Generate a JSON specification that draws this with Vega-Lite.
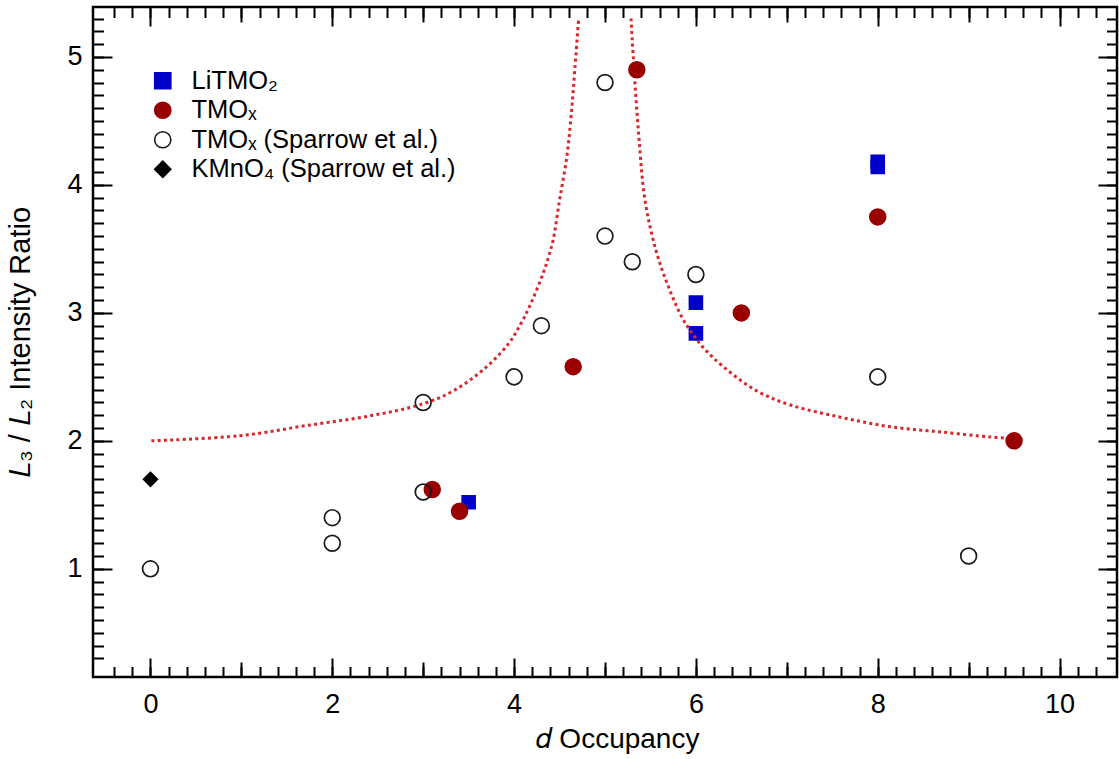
{
  "$schema": "https://vega.github.io/schema/vega-lite/v6.json",
  "width": 1024,
  "height": 670,
  "autosize": {"type": "none"},
  "padding": {"left": 93, "top": 7, "right": 2, "bottom": 82},
  "background": "white",
  "config": {
    "view": {"stroke": "black", "strokeWidth": 2.5},
    "axis": {"grid": false, "domain": false, "tickColor": "black", "tickWidth": 2, "labelFont": "Liberation Sans", "titleFont": "Liberation Sans", "labelColor": "black", "titleColor": "black", "titleFontWeight": "normal"}
  },
  "resolve": {"axis": {"x": "independent", "y": "independent"}},
  "datasets": {
    "points": [
      {"series": "LiTMO₂", "x": 3.5, "y": 1.52},
      {"series": "LiTMO₂", "x": 6, "y": 3.08},
      {"series": "LiTMO₂", "x": 6, "y": 2.84},
      {"series": "LiTMO₂", "x": 8, "y": 4.18},
      {"series": "LiTMO₂", "x": 8, "y": 4.14},
      {"series": "TMOₓ", "x": 3.1, "y": 1.62},
      {"series": "TMOₓ", "x": 3.4, "y": 1.45},
      {"series": "TMOₓ", "x": 4.65, "y": 2.58},
      {"series": "TMOₓ", "x": 5.35, "y": 4.9},
      {"series": "TMOₓ", "x": 6.5, "y": 3.0},
      {"series": "TMOₓ", "x": 8, "y": 3.75},
      {"series": "TMOₓ", "x": 9.5, "y": 2.0},
      {"series": "TMOₓ (Sparrow et al.)", "x": 0, "y": 1.0},
      {"series": "TMOₓ (Sparrow et al.)", "x": 2, "y": 1.4},
      {"series": "TMOₓ (Sparrow et al.)", "x": 2, "y": 1.2},
      {"series": "TMOₓ (Sparrow et al.)", "x": 3, "y": 1.6},
      {"series": "TMOₓ (Sparrow et al.)", "x": 3, "y": 2.3},
      {"series": "TMOₓ (Sparrow et al.)", "x": 4, "y": 2.5},
      {"series": "TMOₓ (Sparrow et al.)", "x": 4.3, "y": 2.9},
      {"series": "TMOₓ (Sparrow et al.)", "x": 5, "y": 3.6},
      {"series": "TMOₓ (Sparrow et al.)", "x": 5, "y": 4.8},
      {"series": "TMOₓ (Sparrow et al.)", "x": 5.3, "y": 3.4},
      {"series": "TMOₓ (Sparrow et al.)", "x": 6, "y": 3.3},
      {"series": "TMOₓ (Sparrow et al.)", "x": 8, "y": 2.5},
      {"series": "TMOₓ (Sparrow et al.)", "x": 9, "y": 1.1},
      {"series": " KMnO₄ (Sparrow et al.)", "x": 0, "y": 1.7}
    ],
    "curve": [
      {"branch": "left", "x": 0.01, "y": 2.0},
      {"branch": "left", "x": 0.98, "y": 2.04},
      {"branch": "left", "x": 1.72, "y": 2.12},
      {"branch": "left", "x": 2.45, "y": 2.2},
      {"branch": "left", "x": 3.0, "y": 2.29},
      {"branch": "left", "x": 3.33, "y": 2.39},
      {"branch": "left", "x": 3.7, "y": 2.58},
      {"branch": "left", "x": 3.95, "y": 2.77},
      {"branch": "left", "x": 4.07, "y": 2.91},
      {"branch": "left", "x": 4.17, "y": 3.05},
      {"branch": "left", "x": 4.32, "y": 3.31},
      {"branch": "left", "x": 4.38, "y": 3.44},
      {"branch": "left", "x": 4.43, "y": 3.57},
      {"branch": "left", "x": 4.5, "y": 3.88},
      {"branch": "left", "x": 4.58, "y": 4.22},
      {"branch": "left", "x": 4.63, "y": 4.56},
      {"branch": "left", "x": 4.67, "y": 4.92},
      {"branch": "left", "x": 4.71, "y": 5.3},
      {"branch": "right", "x": 5.286, "y": 5.3},
      {"branch": "right", "x": 5.318, "y": 4.92},
      {"branch": "right", "x": 5.37, "y": 4.4},
      {"branch": "right", "x": 5.44, "y": 3.88},
      {"branch": "right", "x": 5.56, "y": 3.49},
      {"branch": "right", "x": 5.7, "y": 3.2},
      {"branch": "right", "x": 5.85, "y": 2.96},
      {"branch": "right", "x": 5.94, "y": 2.86},
      {"branch": "right", "x": 6.08, "y": 2.73},
      {"branch": "right", "x": 6.3, "y": 2.58},
      {"branch": "right", "x": 6.67, "y": 2.39},
      {"branch": "right", "x": 7.04, "y": 2.28},
      {"branch": "right", "x": 7.59, "y": 2.185},
      {"branch": "right", "x": 8.14, "y": 2.11},
      {"branch": "right", "x": 8.69, "y": 2.07},
      {"branch": "right", "x": 9.24, "y": 2.03},
      {"branch": "right", "x": 9.46, "y": 2.02}
    ]
  },
  "layer": [
    {
      "data": {"name": "curve"},
      "mark": {"type": "point", "opacity": 0},
      "encoding": {
        "x": {"field": "x", "type": "quantitative", "scale": {"domain": [-0.632, 10.632], "nice": false, "zero": false},
          "axis": {"orient": "bottom", "values": [0, 2, 4, 6, 8, 10], "tickSize": -19, "labelPadding": 33, "labelFontSize": 27, "title": "𝑑  Occupancy", "titleFontSize": 28, "titlePadding": 8, "titleX": 524}},
        "y": {"field": "y", "type": "quantitative", "scale": {"domain": [0.155, 5.39], "nice": false, "zero": false},
          "axis": {"orient": "left", "values": [1, 2, 3, 4, 5], "tickSize": -19, "labelPadding": 30, "labelFontSize": 27, "title": "𝐿₃ / 𝐿₂   Intensity Ratio", "titleFontSize": 29, "titlePadding": 31}}
      }
    },
    {
      "data": {"name": "curve"},
      "mark": {"type": "point", "opacity": 0},
      "encoding": {
        "x": {"field": "x", "type": "quantitative", "scale": {"domain": [-0.632, 10.632], "nice": false, "zero": false},
          "axis": {"orient": "bottom", "values": [-0.4, -0.2, 0, 0.2, 0.4, 0.6, 0.8, 1, 1.2, 1.4, 1.6, 1.8, 2, 2.2, 2.4, 2.6, 2.8, 3, 3.2, 3.4, 3.6, 3.8, 4, 4.2, 4.4, 4.6, 4.8, 5, 5.2, 5.4, 5.6, 5.8, 6, 6.2, 6.4, 6.6, 6.8, 7, 7.2, 7.4, 7.6, 7.8, 8, 8.2, 8.4, 8.6, 8.8, 9, 9.2, 9.4, 9.6, 9.8, 10, 10.2, 10.4], "tickSize": -10.5, "labels": false, "title": null}},
        "y": {"field": "y", "type": "quantitative", "scale": {"domain": [0.155, 5.39], "nice": false, "zero": false},
          "axis": {"orient": "left", "values": [0.3, 0.4, 0.5, 0.6, 0.7, 0.8, 0.9, 1, 1.1, 1.2, 1.3, 1.4, 1.5, 1.6, 1.7, 1.8, 1.9, 2, 2.1, 2.2, 2.3, 2.4, 2.5, 2.6, 2.7, 2.8, 2.9, 3, 3.1, 3.2, 3.3, 3.4, 3.5, 3.6, 3.7, 3.8, 3.9, 4, 4.1, 4.2, 4.3, 4.4, 4.5, 4.6, 4.7, 4.8, 4.9, 5, 5.1, 5.2, 5.3], "tickSize": -10.5, "labels": false, "title": null}}
      }
    },
    {
      "data": {"name": "curve"},
      "mark": {"type": "point", "opacity": 0},
      "encoding": {
        "x": {"field": "x", "type": "quantitative", "scale": {"domain": [-0.632, 10.632], "nice": false, "zero": false},
          "axis": {"orient": "bottom", "values": [1, 3, 5, 7, 9], "tickSize": -15, "labels": false, "title": null}},
        "y": {"field": "y", "type": "quantitative", "scale": {"domain": [0.155, 5.39], "nice": false, "zero": false},
          "axis": {"orient": "right", "values": [1, 2, 3, 4, 5], "tickSize": -19, "labels": false, "title": null}}
      }
    },
    {
      "data": {"name": "curve"},
      "mark": {"type": "point", "opacity": 0},
      "encoding": {
        "x": {"field": "x", "type": "quantitative", "scale": {"domain": [-0.632, 10.632], "nice": false, "zero": false},
          "axis": {"orient": "top", "values": [0, 2, 4, 6, 8, 10], "tickSize": -19, "labels": false, "title": null}},
        "y": {"field": "y", "type": "quantitative", "scale": {"domain": [0.155, 5.39], "nice": false, "zero": false},
          "axis": {"orient": "right", "values": [0.3, 0.4, 0.5, 0.6, 0.7, 0.8, 0.9, 1, 1.1, 1.2, 1.3, 1.4, 1.5, 1.6, 1.7, 1.8, 1.9, 2, 2.1, 2.2, 2.3, 2.4, 2.5, 2.6, 2.7, 2.8, 2.9, 3, 3.1, 3.2, 3.3, 3.4, 3.5, 3.6, 3.7, 3.8, 3.9, 4, 4.1, 4.2, 4.3, 4.4, 4.5, 4.6, 4.7, 4.8, 4.9, 5, 5.1, 5.2, 5.3], "tickSize": -10.5, "labels": false, "title": null}}
      }
    },
    {
      "data": {"name": "curve"},
      "mark": {"type": "point", "opacity": 0},
      "encoding": {
        "x": {"field": "x", "type": "quantitative", "scale": {"domain": [-0.632, 10.632], "nice": false, "zero": false},
          "axis": {"orient": "top", "values": [-0.4, -0.2, 0, 0.2, 0.4, 0.6, 0.8, 1, 1.2, 1.4, 1.6, 1.8, 2, 2.2, 2.4, 2.6, 2.8, 3, 3.2, 3.4, 3.6, 3.8, 4, 4.2, 4.4, 4.6, 4.8, 5, 5.2, 5.4, 5.6, 5.8, 6, 6.2, 6.4, 6.6, 6.8, 7, 7.2, 7.4, 7.6, 7.8, 8, 8.2, 8.4, 8.6, 8.8, 9, 9.2, 9.4, 9.6, 9.8, 10, 10.2, 10.4], "tickSize": -10.5, "labels": false, "title": null}},
        "y": {"field": "y", "type": "quantitative", "scale": {"domain": [0.155, 5.39], "nice": false, "zero": false}, "axis": null}
      }
    },
    {
      "data": {"name": "curve"},
      "mark": {"type": "point", "opacity": 0},
      "encoding": {
        "x": {"field": "x", "type": "quantitative", "scale": {"domain": [-0.632, 10.632], "nice": false, "zero": false},
          "axis": {"orient": "top", "values": [1, 3, 5, 7, 9], "tickSize": -15, "labels": false, "title": null}},
        "y": {"field": "y", "type": "quantitative", "scale": {"domain": [0.155, 5.39], "nice": false, "zero": false}, "axis": null}
      }
    },
    {
      "data": {"name": "points"},
      "transform": [{"filter": "datum.series === 'LiTMO₂'"}],
      "mark": {"type": "point", "filled": false, "size": 169, "strokeWidth": 1.6, "opacity": 1},
      "encoding": {
        "x": {"field": "x", "type": "quantitative", "scale": {"domain": [-0.632, 10.632], "nice": false, "zero": false}, "axis": null},
        "y": {"field": "y", "type": "quantitative", "scale": {"domain": [0.155, 5.39], "nice": false, "zero": false}, "axis": null},
        "shape": {"field": "series", "type": "nominal", "scale": {"domain": ["LiTMO₂", "TMOₓ", "TMOₓ (Sparrow et al.)", " KMnO₄ (Sparrow et al.)"], "range": ["square", "circle", "circle", "diamond"]},
          "legend": {"title": null, "orient": "none", "legendX": 57, "legendY": 61, "padding": 0, "labelFont": "Liberation Sans", "labelFontSize": 25.5, "labelColor": "black", "labelLimit": 500, "symbolSize": 260, "rowPadding": 2.5, "labelOffset": 16, "symbolStrokeWidth": 1.6}},
        "fill": {"field": "series", "type": "nominal", "scale": {"domain": ["LiTMO₂", "TMOₓ", "TMOₓ (Sparrow et al.)", " KMnO₄ (Sparrow et al.)"], "range": ["#0000cc", "#990000", "transparent", "#000000"]},
          "legend": {"title": null, "orient": "none", "legendX": 57, "legendY": 61, "padding": 0, "labelFont": "Liberation Sans", "labelFontSize": 25.5, "labelColor": "black", "labelLimit": 500, "symbolSize": 260, "rowPadding": 2.5, "labelOffset": 16, "symbolStrokeWidth": 1.6}},
        "stroke": {"field": "series", "type": "nominal", "scale": {"domain": ["LiTMO₂", "TMOₓ", "TMOₓ (Sparrow et al.)", " KMnO₄ (Sparrow et al.)"], "range": ["#0000cc", "#990000", "#1a1a1a", "#000000"]},
          "legend": {"title": null, "orient": "none", "legendX": 57, "legendY": 61, "padding": 0, "labelFont": "Liberation Sans", "labelFontSize": 25.5, "labelColor": "black", "labelLimit": 500, "symbolSize": 260, "rowPadding": 2.5, "labelOffset": 16, "symbolStrokeWidth": 1.6}}
      }
    },
    {
      "data": {"name": "curve"},
      "mark": {"type": "line", "color": "#d9262b", "strokeWidth": 3, "strokeDash": [3, 3.3], "strokeCap": "butt", "interpolate": "catmull-rom"},
      "encoding": {
        "x": {"field": "x", "type": "quantitative", "scale": {"domain": [-0.632, 10.632], "nice": false, "zero": false}, "axis": null},
        "y": {"field": "y", "type": "quantitative", "scale": {"domain": [0.155, 5.39], "nice": false, "zero": false}, "axis": null},
        "detail": {"field": "branch", "type": "nominal"}
      }
    },
    {
      "data": {"name": "points"},
      "transform": [{"filter": "datum.series === 'TMOₓ' || datum.series === 'TMOₓ (Sparrow et al.)'"}],
      "mark": {"type": "point", "filled": false, "size": 250, "strokeWidth": 1.7, "opacity": 1},
      "encoding": {
        "x": {"field": "x", "type": "quantitative", "scale": {"domain": [-0.632, 10.632], "nice": false, "zero": false}, "axis": null},
        "y": {"field": "y", "type": "quantitative", "scale": {"domain": [0.155, 5.39], "nice": false, "zero": false}, "axis": null},
        "shape": {"field": "series", "type": "nominal", "scale": {"domain": ["LiTMO₂", "TMOₓ", "TMOₓ (Sparrow et al.)", " KMnO₄ (Sparrow et al.)"], "range": ["square", "circle", "circle", "diamond"]}},
        "fill": {"field": "series", "type": "nominal", "scale": {"domain": ["LiTMO₂", "TMOₓ", "TMOₓ (Sparrow et al.)", " KMnO₄ (Sparrow et al.)"], "range": ["#0000cc", "#990000", "transparent", "#000000"]}},
        "stroke": {"field": "series", "type": "nominal", "scale": {"domain": ["LiTMO₂", "TMOₓ", "TMOₓ (Sparrow et al.)", " KMnO₄ (Sparrow et al.)"], "range": ["#0000cc", "#990000", "#1a1a1a", "#000000"]}}
      }
    },
    {
      "data": {"name": "points"},
      "transform": [{"filter": "indexof(datum.series, 'KMnO') >= 0"}],
      "mark": {"type": "point", "filled": false, "size": 196, "strokeWidth": 1.6, "opacity": 1},
      "encoding": {
        "x": {"field": "x", "type": "quantitative", "scale": {"domain": [-0.632, 10.632], "nice": false, "zero": false}, "axis": null},
        "y": {"field": "y", "type": "quantitative", "scale": {"domain": [0.155, 5.39], "nice": false, "zero": false}, "axis": null},
        "shape": {"field": "series", "type": "nominal", "scale": {"domain": ["LiTMO₂", "TMOₓ", "TMOₓ (Sparrow et al.)", " KMnO₄ (Sparrow et al.)"], "range": ["square", "circle", "circle", "diamond"]}},
        "fill": {"field": "series", "type": "nominal", "scale": {"domain": ["LiTMO₂", "TMOₓ", "TMOₓ (Sparrow et al.)", " KMnO₄ (Sparrow et al.)"], "range": ["#0000cc", "#990000", "transparent", "#000000"]}},
        "stroke": {"field": "series", "type": "nominal", "scale": {"domain": ["LiTMO₂", "TMOₓ", "TMOₓ (Sparrow et al.)", " KMnO₄ (Sparrow et al.)"], "range": ["#0000cc", "#990000", "#1a1a1a", "#000000"]}}
      }
    }
  ]
}
